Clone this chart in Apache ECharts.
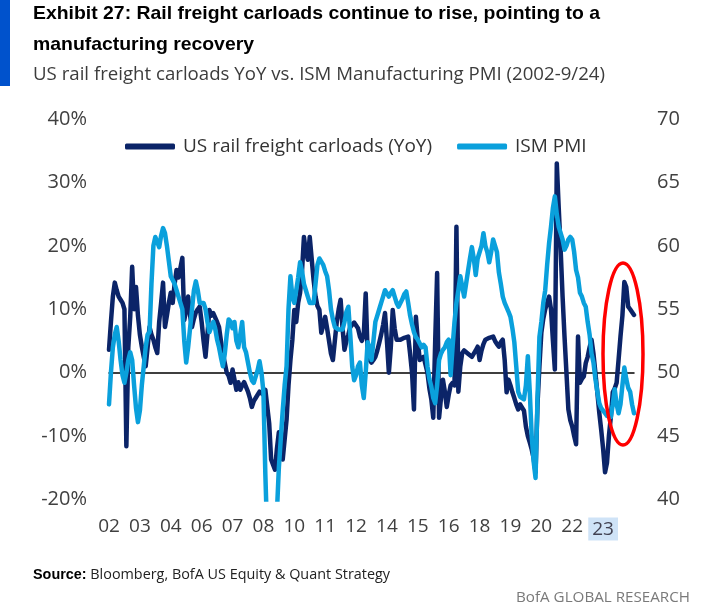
<!DOCTYPE html>
<html>
<head>
<meta charset="utf-8">
<script src="https://cdn.jsdelivr.net/npm/echarts@6/dist/echarts.min.js"></script>
<style>
html,body{margin:0;padding:0;background:#fff;}
#c{width:703px;height:614px;}
</style>
</head>
<body>
<div id="c"></div>
<script>
// ---- Data (monthly, Jan 2002 .. Sep 2024) ----
const railYoY = [
  3.6, 8, 12, 14.2, 13, 12, 11.5, 11, 10, -11.6, 4, 8.8,          // 2002
  16.7, 10, 13.5, 9, 6, 4.1, 2.5, 1, 4, 7.2, 6, 5.2,              // 2003
  4, 3.1, 8, 11, 14.2, 7.2, 9, 11, 12.6, 11, 14, 16.2,            // 2004
  15, 16.5, 18.1, 8.3, 10, 12, 9, 7.2, 8.5, 9.5, 10, 10.4,        // 2005
  8, 5, 2.5, 6, 9.9, 9, 9.4, 9.4, 8, 7.2, 5, 3,                   // 2006
  1.5, 0, -0.5, -1.6, 0.5, 0.5, -2.7, -1.5, -2.7, -2, -1.5, -1.6, // 2007
  -3, -4, -5.4, -4.5, -4, -3.8, -3, -2.7, -3.5, -2.7, -2.7, -8,   // 2008
  -13.7, -14.5, -15.3, -12, -9.4, -11, -13.7, -13.7, -7.4, -2, 2, 5.2, // 2009
  9.9, 8, 11, 12.6, 16, 21.4, 19, 17.8, 21.4, 18, 14.6, 12,       // 2010
  10.5, 9.9, 6.3, 7.5, 8.8, 7, 5, 3, 2, 5, 8, 10,                 // 2011
  11.5, 7, 3.6, 5, 6, 7.2, 7.5, 7.9, 7.9, 7, 5.7, 5,              // 2012
  6, 12.5, 3, 2, 1.6, 2, 2.5, 3.5, 4.7, 6, 7.5, 9.4,              // 2013
  5, 0, 4, 9.9, 7, 5.2, 5.5, 5.2, 5.2, 5.5, 5.5, 5.7,             // 2014
  3, 0, -5.8, 8.8, 5, 2, 2, 2.5, 2.5, 0, -2.5, -4.2,              // 2015
  -7.1, 5, 15.7, -7.1, -4, -1.1, -3, -5.4, -3.5, -2, -1.6, -2,    // 2016
  23, -3, 1, 3.1, 3.5, 3.6, 3, 2.8, 2.5, 3, 3.5, 4.1,             // 2017
  2, 3.5, 4.5, 5.2, 5, 5.5, 5.5, 5.7, 5, 4.5, 4.1, 4.8,           // 2018
  5.2, 2, -3.1, -1.1, -2, -3.1, -4, -5, -5.8, -5, -4.7, -6,       // 2019
  -8.5, -10, -11, -12.1, -13.5, -15.7, -5, 1, 6.3, 8.5, 10, 11,   // 2020
  12, 10, 5, 0.5, 33, 26, 19.4, 12, 5.7, 0, -5.8, -7.5,           // 2021
  -8.5, -10, -11.3, 5.7, -1.6, -1, -0.6, 1.5, 2.5, 4, 5.2, 3,     // 2022
  0, -3.1, -6.3, -9, -12, -15.7, -14.2, -10, -7, -3.1, -2.5, -1.6, // 2023
  2, 5.7, 9, 14.3, 13.5, 10.4, 10, 9.9, 9.1                       // 2024
];
const ismPMI = [
  47.5, 50, 52, 53, 53.6, 52.5, 51, 49.8, 49.2, 50, 51, 51.6,     // 2002
  51, 49, 47.2, 46.1, 47, 49, 50.5, 52, 53, 53.2, 57, 60,         // 2003
  60.7, 60.3, 59.9, 60.8, 61.4, 61, 60, 58.8, 57.6, 57.3, 57, 56.5, // 2004
  56, 55.5, 55, 52.5, 50.8, 52, 53.5, 55, 56.5, 57.2, 56.5, 55.5, // 2005
  55.5, 55.5, 55, 54, 53.2, 53.6, 54, 53.5, 52.6, 52, 51.2, 50.5, // 2006
  51.5, 53, 54.2, 54, 53.5, 54, 52.5, 52, 53, 54, 52, 51.6,       // 2007
  50.8, 50, 49.4, 49.2, 49.2, 50.2, 50.9, 50, 48.5, 42, 37, 33,   // 2008
  34, 34.5, 36, 39, 42.5, 44.8, 47, 49, 50.5, 55, 57.6, 56,       // 2009
  55.5, 56.5, 57.5, 58.7, 58, 57, 56.5, 56, 55.5, 55.5, 55.5, 57, // 2010
  58.5, 59, 59.1, 58.5, 58, 57.6, 56.5, 55, 54.2, 53.6, 53.5, 53.4, // 2011
  53.4, 53.4, 54, 54.8, 55.2, 53, 50.5, 49.4, 49.8, 50.5, 50.8, 49, // 2012
  48, 50, 52.4, 52, 51, 52.5, 54, 54.5, 55, 55.5, 56, 56.5,       // 2013
  56.5, 56, 56.3, 56.5, 56, 55.5, 55.2, 55.2, 55.8, 56.2, 56.4, 55.5, // 2014
  54.5, 53.8, 53.2, 52.8, 52.6, 52.3, 52, 52.2, 52, 50.5, 49.5, 48.9, // 2015
  48, 47.6, 49, 51, 51.5, 51.8, 52, 52.4, 52.6, 49.8, 52, 54,     // 2016
  55.5, 56.5, 57.6, 56.8, 56, 57, 58, 59, 59.9, 59, 57.7, 59,     // 2017
  59, 60, 61, 60, 59.5, 58.7, 59.5, 60.5, 60.5, 59.5, 57.9, 57,   // 2018
  56, 55.5, 55.5, 54.8, 54.4, 53.5, 52.4, 50.5, 48.5, 48.1, 48, 47.9, // 2019
  49, 51.3, 48.5, 45, 43, 41.7, 48, 52.8, 54, 55.5, 56.5, 58.5,   // 2020
  60.2, 61.5, 63, 63.9, 62.5, 61.5, 61, 60.5, 59.7, 60, 60.5, 60.7, // 2021
  60.5, 59.5, 58.1, 57.5, 56.3, 56, 55.5, 55.2, 54, 53, 51.5, 50.8, // 2022
  49.5, 48.5, 47.6, 47.2, 47, 46.8, 46.6, 46.5, 46.5, 47.5, 48.7, 47.5, // 2023
  46.8, 47.5, 49, 50.4, 49.5, 48.8, 48.5, 47.5, 46.8              // 2024
];
const xTickLabels = ['02','03','04','06','07','08','10','11','12','14','15','16','18','19','20','22','23'];
const seriesNames = ['US rail freight carloads (YoY)', 'ISM PMI'];

// month categories
const months = [];
for (let y = 2002; y <= 2024; y++) {
  for (let m = 1; m <= 12; m++) {
    if (y === 2024 && m > 9) break;
    months.push(y + '-' + (m < 10 ? '0' + m : m));
  }
}

const DARK = '#0b2468';
const LIGHT = '#0aa0dc';
const AXIS_FONT = '"Open Sans", "Noto Sans", sans-serif';

// text fitting helper
const cv = document.createElement('canvas').getContext('2d');
function tw(text, font) { cv.font = font; return cv.measureText(text).width; }

const titleL1 = 'Exhibit 27: Rail freight carloads continue to rise, pointing to a';
const titleL2 = 'manufacturing recovery';
const subTitle = 'US rail freight carloads YoY vs. ISM Manufacturing PMI (2002-9/24)';
const titleFont = 'bold 19px "Liberation Sans", Arial, sans-serif';
const subFont = '18px "Open Sans", sans-serif';
const sT = 567 / tw(titleL1, titleFont);
const sS = 572 / tw(subTitle, subFont);

const srcBold = 'Source:';
const srcRest = ' Bloomberg, BofA US Equity & Quant Strategy';
const srcBoldFont = 'bold 15px "Liberation Sans", Arial, sans-serif';
const srcFont = '15px "Open Sans", sans-serif';
const wB = tw(srcBold, srcBoldFont), wR = tw(srcRest, srcFont);
const sSrc = 357 / (wB + wR);
const brand = 'BofA GLOBAL RESEARCH';
const brandFont = '15px "Open Sans", sans-serif';
const sBr = 174 / tw(brand, brandFont);

const chart = echarts.init(document.getElementById('c'), null, {renderer: 'canvas'});
chart.setOption({
  animation: false,
  backgroundColor: '#fff',
  grid: {left: 109, right: 69, top: 119, bottom: 114.5},
  legend: {
    data: seriesNames,
    left: 120, top: 132,
    icon: 'roundRect', itemWidth: 50, itemHeight: 6, itemGap: 25,
    textStyle: {fontSize: 19, color: '#333', fontFamily: AXIS_FONT, padding: [0, 0, 0, 3]}
  },
  xAxis: [{
    type: 'category', data: months, boundaryGap: false,
    axisLine: {show: false, onZero: false}, axisTick: {show: false},
    axisLabel: {
      interval: 15, margin: 18, fontSize: 19, color: '#404040', fontFamily: AXIS_FONT,
      formatter: function (v, i) {
        const k = Math.round(i / 16);
        const t = xTickLabels[k];
        return k === xTickLabels.length - 1 ? '{hl|' + t + '}' : t;
      },
      rich: {hl: {backgroundColor: '#cfe3f7', padding: [3, 4, 1, 4], fontSize: 19, color: '#404050', fontFamily: AXIS_FONT}}
    },
    splitLine: {show: false}
  }, {
    type: 'category', data: months, boundaryGap: false,
    axisLine: {show: true, onZero: true, lineStyle: {color: '#000', width: 1.5}},
    axisTick: {show: false}, axisLabel: {show: false}, splitLine: {show: false}
  }],
  yAxis: [{
    type: 'value', min: -20, max: 40, interval: 10,
    axisLine: {show: false}, axisTick: {show: false}, splitLine: {show: false},
    axisLabel: {formatter: '{value}%', margin: 22, fontSize: 20, color: '#404040', fontFamily: AXIS_FONT}
  }, {
    type: 'value', min: 40, max: 70, interval: 5, position: 'right',
    axisLine: {show: false}, axisTick: {show: false}, splitLine: {show: false},
    axisLabel: {margin: 23, fontSize: 20, color: '#404040', fontFamily: AXIS_FONT}
  }],
  series: [{
    name: seriesNames[0], type: 'line', data: railYoY, xAxisIndex: 0, yAxisIndex: 0,
    showSymbol: false, symbol: 'none', clip: true,
    lineStyle: {color: DARK, width: 4.5, cap: 'round', join: 'round'}, itemStyle: {color: DARK}
  }, {
    name: seriesNames[1], type: 'line', data: ismPMI, xAxisIndex: 0, yAxisIndex: 1,
    showSymbol: false, symbol: 'none', clip: true,
    lineStyle: {color: LIGHT, width: 4.5, cap: 'round', join: 'round'}, itemStyle: {color: LIGHT}
  }],
  graphic: [
    {type: 'rect', shape: {x: 0, y: 0, width: 10, height: 86}, style: {fill: '#0052cc'}},
    {type: 'text', x: 33, y: 14, scaleX: sT, style: {text: titleL1, font: titleFont, fill: '#000', verticalAlign: 'middle', align: 'left'}},
    {type: 'text', x: 33, y: 45, scaleX: sT, style: {text: titleL2, font: titleFont, fill: '#000', verticalAlign: 'middle', align: 'left'}},
    {type: 'text', x: 33, y: 75, scaleX: sS, style: {text: subTitle, font: subFont, fill: '#3c3c3c', verticalAlign: 'middle', align: 'left'}},
    {type: 'text', x: 33, y: 575, scaleX: sSrc, style: {text: srcBold, font: srcBoldFont, fill: '#000', verticalAlign: 'middle', align: 'left'}},
    {type: 'text', x: 33 + wB * sSrc, y: 575, scaleX: sSrc, style: {text: srcRest, font: srcFont, fill: '#222', verticalAlign: 'middle', align: 'left'}},
    {type: 'text', x: 690 - 174, y: 598, scaleX: sBr, style: {text: brand, font: brandFont, fill: '#7a7a7a', verticalAlign: 'middle', align: 'left'}},
    {type: 'ellipse', z: 100, shape: {cx: 623, cy: 354, rx: 20, ry: 91}, style: {fill: 'none', stroke: '#ff0000', lineWidth: 3.5}}
  ]
});
</script>
</body>
</html>
